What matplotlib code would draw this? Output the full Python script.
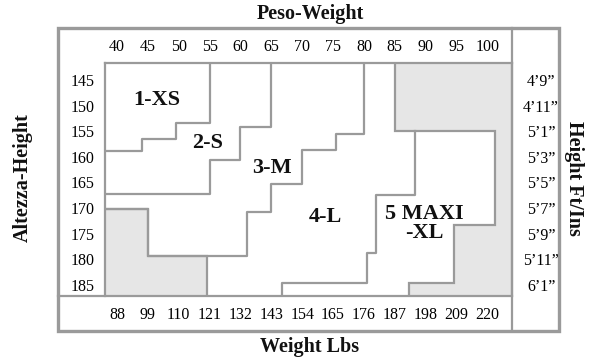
import matplotlib.pyplot as plt
from matplotlib.patches import Rectangle

plt.rcParams['font.family'] = ['Liberation Serif', 'DejaVu Serif']

kg = [40, 45, 50, 55, 60, 65, 70, 75, 80, 85, 90, 95, 100]
lbs = [88, 99, 110, 121, 132, 143, 154, 165, 176, 187, 198, 209, 220]
cm = [145, 150, 155, 160, 165, 170, 175, 180, 185]
ftin = ['4\u20199\u201d', '4\u201911\u201d', '5\u20191\u201d', '5\u20193\u201d', '5\u20195\u201d',
        '5\u20197\u201d', '5\u20199\u201d', '5\u201911\u201d', '6\u20191\u201d']

# size boundaries: weight (kg) / height (cm) corners
xs_w = [55, 55, 49.5, 49.5, 44, 44, 37]
xs_h = [141, 153.4, 153.4, 156.5, 156.5, 158.9, 158.9]
s_w = [65, 65, 60, 60, 55, 55, 37]
s_h = [141, 154.2, 154.2, 160.6, 160.6, 167.2, 167.2]
m_w = [80, 80, 75.5, 75.5, 70, 70, 65, 65, 61, 61, 45, 45, 37]
m_h = [141, 155.5, 155.5, 158.7, 158.7, 165.3, 165.3, 170.8, 170.8, 179.3, 179.3, 170.2, 170.2]
l_w = [88.3, 88.3, 82, 82, 80.5, 80.5, 66.7, 66.7]
l_h = [155, 167.4, 167.4, 178.8, 178.8, 184.7, 184.7, 188]
# grey corners (no size)
g1_w = [37, 45, 45, 54.5, 54.5, 37]
g1_h = [170.2, 170.2, 179.3, 179.3, 188, 188]
g2_w = [85, 85, 101.3, 101.3, 94.6, 94.6, 87.3, 87.3, 105, 105]
g2_h = [141, 155, 155, 173.3, 173.3, 184.6, 184.6, 188, 188, 141]

sizes = ['1-XS', '2-S', '3-M', '4-L', '5 MAXI\n-XL']
size_w = [46.5, 54.7, 65.1, 73.7, 89.8]
size_h = [148.9, 157.3, 162.2, 171.7, 173.0]

lc = '#9a9a9a'
lw = 1.6

fig = plt.figure(figsize=(6, 3.64), dpi=100)
ax = fig.add_axes([105/600, 68/364, 407/600, 233/364])
ax.set_xlim(38.05, 104.0)
ax.set_ylim(187.15, 141.7)

ax.fill(g1_w, g1_h, fc='#e6e6e6', ec=lc, lw=lw)
ax.fill(g2_w, g2_h, fc='#e6e6e6', ec=lc, lw=lw)
for w, h in [(xs_w, xs_h), (s_w, s_h), (m_w, m_h), (l_w, l_h)]:
    ax.plot(w, h, color=lc, lw=lw)

for name, w, h in zip(sizes, size_w, size_h):
    ax.text(w, h, name, ha='center', va='center', fontsize=16, fontweight='bold',
            linespacing=0.9, color='#111111')

for sp in ax.spines.values():
    sp.set_color(lc)
    sp.set_linewidth(lw)
ax.spines['bottom'].set_visible(False)

ax.xaxis.tick_top()
ax.set_xticks(kg, [str(v) for v in kg])
ax.set_yticks(cm, [str(v) for v in cm])
ax.tick_params(axis='x', length=0, pad=6, labelsize=11.5)
ax.tick_params(axis='y', length=0, pad=16, labelsize=11.5)
for t in ax.get_yticklabels():
    t.set_ha('center')

sec = ax.secondary_xaxis('bottom', functions=(lambda w: w*2.2, lambda p: p/2.2))
sec.set_xticks(lbs, [str(v) for v in lbs])
sec.tick_params(length=0, pad=8, labelsize=11.5)
sec.spines['bottom'].set_visible(False)

secy = ax.secondary_yaxis('right')
secy.set_yticks(cm, ftin)
secy.tick_params(length=0, pad=21, labelsize=11.5)
secy.spines['right'].set_visible(False)
for t in secy.get_yticklabels():
    t.set_ha('center')

# outer frame
ax.add_patch(Rectangle((-0.1155, -0.1502), 1.231, 1.3004, transform=ax.transAxes,
                       fill=False, ec=lc, lw=2.4, clip_on=False))
ax.plot([1, 1], [-0.1502, 1.1502], transform=ax.transAxes, color=lc, lw=lw, clip_on=False)
ax.plot([-0.1155, 1], [0, 0], transform=ax.transAxes, color=lc, lw=lw, clip_on=False)

tk = dict(fontsize=14.5, fontweight='bold', color='#111111', ha='center', va='center')
fig.text(310/600, 1 - 14/364, 'Peso-Weight', **tk)
fig.text(310/600, 1 - 347/364, 'Weight Lbs', **tk)
fig.text(23/600, 1 - 178/364, 'Altezza-Height', rotation=90, **tk)
fig.text(574/600, 1 - 178/364, 'Height Ft/Ins', rotation=270, **tk)

fig.savefig('out.png', dpi=100)
